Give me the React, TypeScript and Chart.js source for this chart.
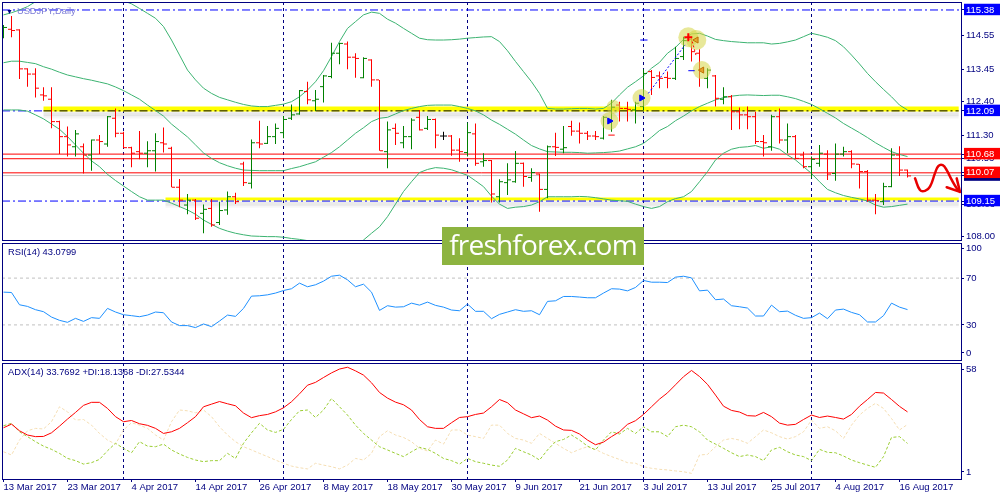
import React, { useEffect, useRef } from "react";
import { Chart, registerables } from "chart.js";

Chart.register(...registerables);

// ---------------- data ----------------
const dateTickIndex = [0, 8, 16, 24, 32, 40, 48, 56, 64, 72, 80, 88, 96, 104, 112];
const dateTickLabels = [
  "13 Mar 2017", "23 Mar 2017", "4 Apr 2017", "14 Apr 2017", "26 Apr 2017",
  "8 May 2017", "18 May 2017", "30 May 2017", "9 Jun 2017", "21 Jun 2017",
  "3 Jul 2017", "13 Jul 2017", "25 Jul 2017", "4 Aug 2017", "16 Aug 2017",
];
const monthStartIndex = [15, 35, 58, 80, 101];

const opens = [
  114.62, 114.75, 114.73, 113.46, 113.29, 112.61, 112.47, 111.74, 111.25, 110.92,
  110.92, 110.65, 111.14, 111.01, 111.85, 111.36, 110.89, 110.76, 110.71, 110.79,
  111.05, 110.87, 109.60, 109.02, 109.18, 108.75, 108.91, 108.45, 108.86, 109.29,
  110.36, 109.73, 111.05, 111.03, 111.25, 111.38, 111.85, 111.99, 112.72, 112.42,
  112.88, 113.21, 113.97, 114.27, 113.84, 113.17, 113.75, 113.10, 110.76, 111.52,
  111.05, 111.25, 111.88, 111.52, 111.81, 111.27, 111.27, 110.81, 110.73, 111.34,
  110.43, 110.47, 109.29, 109.75, 109.78, 110.38, 109.92, 110.03, 109.53, 110.92,
  110.84, 111.58, 111.43, 111.36, 111.27, 111.20, 111.79, 112.28, 112.17, 112.12,
  112.23, 113.37, 113.23, 113.18, 113.15, 113.86, 114.42, 113.97, 113.15, 113.23,
  112.47, 112.55, 112.06, 111.96, 111.90, 111.09, 110.92, 111.90, 111.14, 111.25,
  110.65, 110.27, 110.38, 110.68, 110.05, 110.68, 110.76, 110.35, 110.11, 109.18,
  109.13, 109.62, 110.65, 110.16,
];
const highs = [
  114.89, 115.18, 114.75, 113.48, 113.48, 112.86, 112.86, 111.77, 111.58, 111.47,
  111.03, 111.16, 111.30, 111.92, 112.17, 111.41, 110.92, 111.43, 111.10, 111.36,
  111.55, 110.92, 109.87, 109.38, 109.22, 109.04, 109.22, 109.13, 109.46, 109.42,
  110.43, 111.16, 111.77, 111.60, 111.68, 111.92, 112.30, 112.77, 113.04, 112.77,
  113.26, 114.31, 114.31, 114.35, 113.97, 113.84, 113.77, 113.10, 111.74, 111.68,
  111.60, 111.85, 112.12, 111.92, 111.84, 111.41, 111.30, 111.20, 111.71, 111.68,
  110.71, 110.49, 109.86, 110.38, 110.78, 110.41, 110.22, 110.05, 110.96, 111.38,
  111.60, 111.77, 111.71, 111.43, 111.43, 111.92, 112.45, 112.39, 112.39, 112.39,
  113.45, 113.42, 113.37, 113.37, 114.18, 114.51, 114.51, 114.10, 113.48, 113.26,
  112.86, 112.61, 112.20, 112.23, 112.06, 111.30, 111.96, 112.17, 111.68, 111.30,
  110.76, 110.60, 110.98, 110.81, 111.03, 110.92, 110.81, 110.36, 110.16, 109.38,
  109.75, 110.87, 110.94, 110.18,
];
const lows = [
  114.46, 114.49, 113.13, 112.88, 112.53, 112.42, 111.52, 110.68, 110.60, 110.60,
  110.05, 110.14, 110.68, 110.92, 111.23, 110.87, 110.25, 110.51, 110.25, 110.11,
  110.73, 109.60, 108.95, 108.72, 108.53, 108.10, 108.31, 108.37, 108.70, 109.05,
  109.64, 109.56, 110.87, 111.01, 111.01, 111.20, 111.79, 111.96, 112.31, 112.09,
  112.36, 113.15, 113.61, 113.45, 113.17, 113.15, 112.88, 110.79, 110.22, 110.98,
  110.87, 110.84, 111.45, 111.47, 110.87, 111.14, 110.63, 110.43, 110.60, 110.30,
  110.27, 109.10, 109.10, 109.35, 109.75, 109.62, 109.78, 108.80, 109.24, 110.62,
  110.71, 111.28, 111.03, 111.14, 111.14, 111.16, 111.41, 111.74, 111.74, 111.68,
  112.10, 112.61, 112.83, 112.83, 113.10, 113.75, 113.70, 112.88, 112.83, 112.23,
  112.31, 111.47, 111.49, 111.49, 111.01, 110.60, 110.79, 111.03, 110.71, 110.51,
  110.22, 109.89, 110.27, 109.84, 109.81, 110.60, 110.22, 109.56, 109.13, 108.72,
  109.02, 109.60, 109.97, 109.92,
];
const closes = [
  114.81, 114.71, 113.46, 113.29, 112.83, 112.58, 111.74, 111.25, 110.98, 111.34,
  110.65, 111.14, 111.09, 111.90, 111.36, 110.89, 110.71, 110.71, 110.79, 111.09,
  111.01, 109.60, 109.18, 109.18, 108.59, 108.88, 108.37, 108.84, 109.29, 109.13,
  109.75, 111.05, 111.01, 111.25, 111.52, 111.81, 111.96, 112.75, 112.45, 112.47,
  113.23, 113.97, 114.29, 113.84, 113.80, 113.80, 113.10, 110.79, 111.47, 111.36,
  111.25, 111.79, 111.47, 111.81, 111.30, 111.27, 110.81, 110.76, 111.38, 110.38,
  110.47, 109.38, 109.78, 109.84, 110.38, 109.95, 110.08, 109.53, 110.92, 110.90,
  110.89, 111.43, 111.36, 111.27, 111.25, 111.88, 112.21, 112.17, 112.14, 112.34,
  113.31, 113.18, 113.15, 113.15, 113.80, 114.38, 114.02, 113.42, 113.42, 112.50,
  112.55, 112.06, 111.96, 111.90, 111.09, 111.05, 111.90, 111.14, 111.25, 110.54,
  110.27, 110.51, 110.71, 110.03, 110.68, 110.76, 110.36, 110.11, 109.18, 109.16,
  109.62, 110.65, 110.16, 109.97,
];

const bbUpper = [
  115.22, 115.29, 115.38, 115.49, 115.65, 115.87, 116.00, 116.10, 116.15, 116.20,
  116.20, 116.20, 116.15, 116.05, 115.90, 115.68, 115.58, 115.43, 115.27, 115.11,
  114.84, 114.40, 113.91, 113.42, 113.10, 112.83, 112.66, 112.53, 112.45, 112.37,
  112.30, 112.25, 112.23, 112.23, 112.27, 112.31, 112.39, 112.55, 112.77, 113.04,
  113.40, 113.86, 114.35, 114.78, 115.00, 115.22, 115.31, 115.27, 115.08, 114.95,
  114.78, 114.62, 114.46, 114.41, 114.40, 114.40, 114.41, 114.43, 114.46, 114.48,
  114.50, 114.51, 114.35, 114.05, 113.70, 113.37, 113.04, 112.66, 112.17, 112.15,
  112.15, 112.16, 112.17, 112.17, 112.15, 112.17, 112.34, 112.61, 112.86, 113.04,
  113.23, 113.48, 113.67, 113.97, 114.16, 114.42, 114.60, 114.62, 114.53, 114.42,
  114.38, 114.35, 114.33, 114.31, 114.31, 114.31, 114.27, 114.29, 114.34, 114.40,
  114.51, 114.62, 114.56, 114.49, 114.38, 114.18, 113.91, 113.62, 113.31, 113.04,
  112.79, 112.55, 112.28, 112.12,
];
const bbMiddle = [
  113.66, 113.71, 113.71, 113.67, 113.63, 113.53, 113.45, 113.35, 113.26, 113.20,
  113.14, 113.09, 113.03, 112.97, 112.87, 112.75, 112.61, 112.47, 112.28, 112.10,
  111.92, 111.66, 111.45, 111.24, 110.98, 110.72, 110.54, 110.40, 110.30, 110.22,
  110.16, 110.15, 110.14, 110.14, 110.14, 110.14, 110.21, 110.27, 110.35, 110.43,
  110.58, 110.73, 110.92, 111.14, 111.36, 111.54, 111.74, 111.85, 111.88, 111.99,
  112.10, 112.17, 112.23, 112.27, 112.28, 112.28, 112.28, 112.23, 112.17, 112.09,
  111.96, 111.79, 111.65, 111.49, 111.33, 111.14, 110.96, 110.85, 110.76, 110.75,
  110.74, 110.74, 110.73, 110.71, 110.72, 110.73, 110.75, 110.78, 110.85, 110.92,
  111.03, 111.23, 111.45, 111.58, 111.77, 111.92, 112.09, 112.23, 112.34, 112.45,
  112.52, 112.57, 112.60, 112.61, 112.60, 112.59, 112.60, 112.60, 112.55, 112.49,
  112.40, 112.30, 112.16, 112.01, 111.86, 111.68, 111.53, 111.38, 111.22, 111.05,
  110.90, 110.76, 110.67, 110.60,
];
const bbLower = [
  112.12, 112.12, 112.12, 112.08, 111.96, 111.83, 111.66, 111.49, 111.25, 110.98,
  110.71, 110.46, 110.27, 110.02, 109.82, 109.64, 109.46, 109.29, 109.18, 109.18,
  109.18, 109.08, 108.97, 108.86, 108.72, 108.53, 108.39, 108.26, 108.17, 108.10,
  108.05, 108.01, 108.00, 107.99, 107.99, 107.97, 107.93, 107.90, 107.86, 107.79,
  107.72, 107.61, 107.55, 107.61, 107.72, 107.88, 108.10, 108.31, 108.64, 109.05,
  109.46, 109.78, 110.08, 110.18, 110.24, 110.22, 110.17, 110.08, 109.99, 109.81,
  109.62, 109.31, 109.05, 108.91, 108.95, 108.97, 109.02, 109.13, 109.29, 109.29,
  109.29, 109.29, 109.30, 109.29, 109.26, 109.22, 109.18, 109.16, 109.14, 109.05,
  108.97, 108.91, 108.97, 109.13, 109.23, 109.29, 109.46, 109.78, 110.11, 110.49,
  110.71, 110.84, 110.90, 110.92, 110.96, 110.87, 110.92, 110.84, 110.65, 110.49,
  110.27, 110.05, 109.78, 109.53, 109.42, 109.33, 109.27, 109.22, 109.15, 109.02,
  108.95, 108.97, 109.01, 109.05,
];

const rsi = [
  58.0, 57.7, 47.2, 45.8, 43.0, 41.3, 36.7, 33.9, 32.2, 35.6,
  33.0, 36.2, 35.6, 44.1, 41.0, 38.7, 37.9, 37.0, 38.4, 41.0,
  40.4, 32.5, 29.4, 29.4, 27.7, 30.8, 28.5, 33.3, 38.4, 37.3,
  44.1, 54.6, 54.9, 55.7, 57.2, 59.4, 60.9, 65.7, 62.6, 64.3,
  67.4, 71.6, 72.5, 68.5, 62.6, 64.8, 58.0, 42.4, 46.4, 45.2,
  45.5, 48.6, 46.9, 49.5, 46.7, 45.2, 42.7, 42.1, 47.8, 41.6,
  41.6, 35.3, 39.0, 41.0, 43.0, 41.6, 42.1, 38.7, 50.1, 50.6,
  54.3, 54.3, 53.8, 53.2, 53.2, 57.2, 60.9, 60.6, 59.1, 62.0,
  68.0, 66.5, 66.5, 66.2, 70.8, 71.6, 70.2, 59.1, 59.7, 51.5,
  52.1, 46.4, 45.5, 44.4, 37.6, 37.6, 46.9, 41.3, 41.8, 38.2,
  35.6, 36.2, 40.1, 35.3, 42.7, 43.5, 40.7, 38.7, 32.5, 32.5,
  37.9, 48.6, 45.2, 43.08,
];

const adx = [
  25.9, 27.7, 24.4, 22.3, 21.5, 21.6, 23.4, 26.7, 30.2, 33.5,
  37.0, 38.5, 38.5, 35.5, 31.4, 28.9, 29.5, 27.9, 27.1, 25.6,
  23.1, 23.9, 25.6, 28.4, 31.4, 36.3, 37.6, 38.9, 37.8, 36.8,
  33.2, 30.9, 31.9, 32.5, 33.8, 35.8, 38.8, 42.7, 47.0, 48.4,
  50.8, 53.1, 55.0, 55.9, 54.1, 52.0, 48.2, 43.4, 40.6, 38.6,
  37.3, 34.7, 30.0, 26.4, 25.6, 25.6, 28.4, 31.0, 31.4, 32.5,
  33.2, 36.3, 39.9, 38.3, 34.7, 32.8, 30.9, 31.7, 29.7, 26.7,
  24.8, 24.6, 22.8, 19.8, 17.5, 18.8, 21.5, 23.9, 27.6, 29.4,
  32.5, 36.3, 40.1, 43.2, 47.2, 51.2, 54.3, 51.3, 47.4, 42.1,
  36.6, 34.5, 33.7, 31.9, 31.7, 33.5, 31.4, 28.2, 27.2, 27.6,
  30.0, 32.2, 31.0, 31.7, 31.0, 30.2, 32.5, 36.6, 39.9, 43.4,
  43.1, 39.9, 36.5, 33.77,
];
const plusDI = [
  26.9, 28.1, 23.9, 21.5, 19.0, 16.8, 15.2, 13.2, 10.7, 9.6,
  7.9, 8.6, 10.2, 14.5, 18.2, 15.7, 13.5, 19.0, 16.8, 16.5,
  17.8, 14.9, 12.9, 11.2, 9.9, 9.1, 9.6, 9.6, 13.2, 10.7,
  18.2, 23.4, 28.1, 24.8, 23.6, 25.1, 30.0, 34.3, 34.7, 31.0,
  34.7, 40.4, 36.3, 32.2, 27.2, 23.1, 19.8, 16.5, 14.9, 13.2,
  11.6, 14.0, 16.2, 15.2, 13.2, 10.7, 9.6, 7.9, 10.7, 9.1,
  8.3, 7.4, 6.8, 9.9, 15.7, 14.0, 12.4, 9.9, 14.9, 19.0,
  20.1, 22.3, 19.8, 16.8, 14.9, 19.8, 23.9, 22.8, 25.6, 23.1,
  26.4, 23.9, 23.9, 21.5, 26.4, 27.2, 26.4, 23.9, 19.8, 17.8,
  15.7, 13.5, 11.6, 12.4, 11.6, 9.6, 14.9, 16.2, 14.0, 12.4,
  11.6, 9.6, 15.2, 13.7, 13.5, 11.9, 9.9, 8.6, 7.4, 6.3,
  11.6, 21.1, 21.5, 18.14,
];
const minusDI = [
  14.0, 12.4, 19.8, 24.4, 25.6, 25.3, 28.9, 36.3, 33.8, 29.7,
  30.0, 27.2, 23.1, 19.8, 17.8, 24.8, 28.4, 27.2, 25.6, 22.3,
  19.8, 28.9, 34.7, 34.3, 33.3, 34.7, 31.4, 26.4, 22.3, 19.0,
  16.5, 14.9, 13.2, 11.6, 9.9, 8.3, 6.9, 6.1, 5.5, 8.3,
  7.4, 6.6, 5.5, 7.4, 10.7, 9.9, 13.2, 21.5, 24.4, 22.3,
  21.1, 19.0, 15.7, 14.4, 19.8, 17.8, 24.8, 24.8, 22.3, 21.5,
  20.6, 27.2, 27.2, 23.1, 20.6, 19.8, 18.2, 23.1, 20.6, 18.2,
  15.7, 13.5, 15.2, 16.5, 15.2, 13.2, 11.6, 10.2, 8.6, 8.3,
  6.6, 5.8, 5.3, 5.0, 4.5, 4.1, 3.3, 12.4, 12.7, 16.5,
  19.8, 20.6, 19.8, 18.2, 21.5, 24.8, 23.4, 21.5, 20.3, 21.5,
  23.9, 29.7, 25.6, 26.4, 24.4, 20.6, 27.2, 32.2, 35.5, 38.0,
  35.5, 30.5, 24.8, 27.53,
];

// horizontal levels drawn on the price panel
const topLevel = 115.38;
const resistanceLevel = 112.09;
const supportLevel = 109.15;
const redLevels = [110.68, 110.53, 110.07];
const bidPrice = 109.98;

// price axis labels (hidden ones first so boxed ones sit on top)
const priceAxisTicks = [110.53, 109.03, 114.55, 113.45, 112.40, 111.30, 108.00, 115.38, 112.09, 110.68, 109.98, 110.07, 109.15];
const rsiLevels = [70, 30];
const rsiTickPos = [95, 70, 30, 6];
const rsiTickText = ["100", "70", "30", "0"];
const adxTickPos = [55, 4];
const adxTickText = ["58", "1"];

// trade history marks
const tradeHighlightIdx = [75.75, 76.25, 79.75, 85.6, 86.6, 87.3];
const tradeHighlightPrice = [111.76, 112.22, 112.51, 114.49, 114.40, 113.42];
const buyIdx = [75.75, 79.75];
const buyPrice = [111.76, 112.51];
const exitIdx = [86.6, 87.3];
const exitPrice = [114.40, 113.42];
const crossIdx = [85.6];
const crossPrice = [114.49];
const tradeLineIdx = [80.6, 85.2];
const tradeLinePrice = [112.66, 114.24];
const closeLineIdx = [86.1, 86.6];
const closeLinePrice = [114.35, 113.86];

// hand-drawn forecast squiggle
const forecastIdx = [113.94, 114.56, 115.19, 115.81, 116.44, 116.85, 117.4, 117.9, 118.53, 119.15, 119.56];
const forecastPrice = [109.89, 109.51, 109.48, 109.62, 110.06, 110.29, 110.32, 110.16, 109.84, 109.57, 109.45];
const arrowIdx = [117.9, 119.56, 119.15];
const arrowPrice = [109.60, 109.45, 109.89];

// ---------------- styling ----------------
const X_MIN = -0.1875;
const X_MAX = 119.6875;
const FONT = "'Liberation Sans', Arial, sans-serif";
const NAVY = "#000080";
const GREEN = "#008000";
const RED = "#ff0000";
const BAND = "#3cb371";
const DASHDOT = [8, 3, 2, 3];
const TRANSPARENT = "rgba(0,0,0,0)";

const priceBoxColors: Record<string, string> = {
  "115.38": "#0000ff",
  "112.09": "#0000ff",
  "110.68": "#ff0000",
  "110.07": "#ff0000",
  "109.98": "#000080",
  "109.15": "#0000ff",
};

const framePlugin = {
  id: "frame",
  afterDraw(chart: any) {
    const { ctx, chartArea: a } = chart;
    ctx.save();
    ctx.strokeStyle = NAVY;
    ctx.lineWidth = 1;
    ctx.setLineDash([]);
    ctx.strokeRect(Math.round(a.left) + 0.5, Math.round(a.top) + 0.5, Math.round(a.right - a.left), Math.round(a.bottom - a.top));
    ctx.restore();
  },
};

const pts = (xs: number[], ys: number[]) => xs.map((x, i) => ({ x, y: ys[i] }));
const series = (ys: number[]) => ys.map((y, i) => ({ x: i, y }));

function hLine(y: number, x0: number, x1: number, color: string, width: number, dash: number[], order: number) {
  return {
    type: "line",
    data: [{ x: x0, y }, { x: x1, y }],
    borderColor: color,
    borderWidth: width,
    borderDash: dash,
    pointRadius: 0,
    pointHitRadius: 0,
    fill: false,
    order,
  };
}

function lineSet(data: any[], color: string, width: number, dash: number[], order: number, extra: any = {}) {
  return {
    type: "line",
    data,
    borderColor: color,
    borderWidth: width,
    borderDash: dash,
    pointRadius: 0,
    pointHitRadius: 0,
    fill: false,
    tension: 0,
    order,
    ...extra,
  };
}

function xAxis(withLabels: boolean) {
  const tickValues = withLabels
    ? Array.from(new Set([...dateTickIndex, ...monthStartIndex])).sort((a, b) => a - b)
    : monthStartIndex.slice();
  return {
    type: "linear",
    min: X_MIN,
    max: X_MAX,
    offset: false,
    afterBuildTicks: (s: any) => {
      s.ticks = tickValues.map((v) => ({ value: v }));
    },
    afterFit: (s: any) => {
      s.height = withLabels ? 21 : 0;
      s.paddingLeft = 0;
      s.paddingRight = 0;
    },
    ticks: {
      display: withLabels,
      autoSkip: false,
      maxRotation: 0,
      minRotation: 0,
      align: "start",
      padding: 0,
      color: NAVY,
      font: { family: FONT, size: 9.5 },
      callback: (v: number) => {
        const k = dateTickIndex.indexOf(v);
        return k >= 0 ? dateTickLabels[k] : "";
      },
    },
    grid: {
      offset: false,
      drawOnChartArea: true,
      drawTicks: withLabels,
      tickLength: 3,
      lineWidth: 1,
      color: (c: any) => (c.tick && monthStartIndex.includes(c.tick.value) ? NAVY : TRANSPARENT),
      tickColor: (c: any) => (c.tick && dateTickIndex.includes(c.tick.value) ? NAVY : TRANSPARENT),
    },
    border: { display: false, dash: [3, 3] },
  };
}

function yAxis(min: number, max: number, tickValues: number[], labelFn: (v: number) => string, extraTicks: any = {}) {
  return {
    type: "linear",
    position: "right",
    min,
    max,
    afterBuildTicks: (s: any) => {
      s.ticks = tickValues.map((v) => ({ value: v }));
    },
    afterFit: (s: any) => {
      s.width = 39;
      s.paddingTop = 0;
      s.paddingBottom = 0;
    },
    ticks: {
      autoSkip: false,
      padding: 2,
      color: NAVY,
      font: { family: FONT, size: 9.5, lineHeight: 1.1 },
      callback: labelFn,
      ...extraTicks,
    },
    grid: { drawOnChartArea: false, drawTicks: true, tickLength: 3, tickColor: NAVY },
    border: { display: false },
  };
}

const baseOptions = (padding: any) => ({
  responsive: false,
  maintainAspectRatio: false,
  animation: false,
  devicePixelRatio: 1,
  events: [],
  layout: { padding, autoPadding: false },
  plugins: { legend: { display: false }, tooltip: { enabled: false } },
});

function mainConfig(): any {
  const barColors = opens.map((o, i) => (closes[i] > o ? GREEN : closes[i] < o ? RED : "#000000"));
  const boxKey = (c: any) => (c.tick ? Number(c.tick.value).toFixed(2) : "");
  return {
    type: "line",
    data: {
      datasets: [
        // forecast squiggle
        lineSet(pts(forecastIdx, forecastPrice), "#e80000", 2.5, [], 1, { tension: 0.45, clip: false, borderCapStyle: "round", borderJoinStyle: "round" }),
        lineSet(pts(arrowIdx, arrowPrice), "#e80000", 2.5, [], 1, { clip: false, borderCapStyle: "round", borderJoinStyle: "round" }),
        // trade marks
        {
          type: "scatter",
          data: pts(buyIdx, buyPrice),
          pointStyle: "triangle",
          rotation: 90,
          pointRadius: 3.5,
          pointBackgroundColor: "#0000ff",
          pointBorderColor: "#0000ff",
          pointBorderWidth: 1,
          order: 3,
        },
        {
          type: "scatter",
          data: pts(exitIdx, exitPrice),
          pointStyle: "triangle",
          rotation: 270,
          pointRadius: 3.5,
          pointBackgroundColor: "rgba(230,160,40,0.9)",
          pointBorderColor: "#c07000",
          pointBorderWidth: 1,
          order: 3,
        },
        {
          type: "scatter",
          data: pts(crossIdx, crossPrice),
          pointStyle: "cross",
          pointRadius: 4,
          pointBorderColor: "#ff0000",
          pointBorderWidth: 2,
          order: 3,
        },
        lineSet(pts(tradeLineIdx, tradeLinePrice), "#0000ff", 1, [2, 2], 4),
        lineSet(pts(closeLineIdx, closeLinePrice), "#ff0000", 1, [2, 2], 4),
        lineSet([{ x: 79.6, y: 114.4 }, { x: 80.5, y: 114.4 }], "#0000ff", 1, [], 4),
        lineSet([{ x: 85.6, y: 113.4 }, { x: 86.4, y: 113.4 }], "#0000ff", 1, [], 4),
        lineSet([{ x: 75.6, y: 111.3 }, { x: 76.4, y: 111.3 }], "#ff0000", 1, [], 4),
        {
          type: "scatter",
          data: pts(tradeHighlightIdx, tradeHighlightPrice),
          pointStyle: "circle",
          pointRadius: [9, 7, 9, 10, 10, 9],
          pointBackgroundColor: "rgba(214,214,70,0.55)",
          pointBorderWidth: 0,
          order: 8,
        },
        // OHLC bars
        {
          type: "scatter",
          data: opens.map((o, i) => ({ x: i - 0.25, y: o })),
          pointStyle: "line",
          pointRadius: 1.5,
          pointBorderWidth: 1,
          pointBorderColor: barColors,
          pointBackgroundColor: barColors,
          order: 19,
        },
        {
          type: "scatter",
          data: closes.map((c, i) => ({ x: i + 0.25, y: c })),
          pointStyle: "line",
          pointRadius: 1.5,
          pointBorderWidth: 1,
          pointBorderColor: barColors,
          pointBackgroundColor: barColors,
          order: 19,
        },
        {
          type: "bar",
          data: highs.map((h, i) => ({ x: i, y: [lows[i], h] })),
          backgroundColor: barColors,
          borderWidth: 0,
          barThickness: 1,
          inflateAmount: 0,
          grouped: false,
          order: 20,
        },
        // Bollinger bands
        lineSet(series(bbUpper), BAND, 1, [], 50),
        lineSet(series(bbMiddle), BAND, 1, [], 50),
        lineSet(series(bbLower), BAND, 1, [], 50),
        // support / resistance bands
        hLine(resistanceLevel, 5, 119.4, "#000000", 1, DASHDOT, 85),
        hLine(112.15, 5, 119.4, "#ffff00", 5, [], 90),
        hLine(111.98, 5, 119.4, "rgba(0,0,0,0.09)", 4, [], 95),
        hLine(111.89, 5, 119.4, "rgba(0,0,0,0.04)", 3, [], 96),
        hLine(109.22, 20.25, 119.4, "#ffff00", 3, [], 90),
        hLine(109.07, 20.25, 119.4, "rgba(0,0,0,0.08)", 4, [], 95),
        hLine(108.98, 20.25, 119.4, "rgba(0,0,0,0.035)", 3, [], 96),
        // horizontal lines
        hLine(topLevel, X_MIN, X_MAX, "#0000ff", 1, DASHDOT, 100),
        hLine(resistanceLevel, X_MIN, 5, "#0000ff", 1, DASHDOT, 100),
        hLine(supportLevel, X_MIN, X_MAX, "#0000ff", 1, DASHDOT, 80),
        ...redLevels.map((v) => hLine(v, X_MIN, X_MAX, RED, 1, [], 100)),
        hLine(bidPrice, X_MIN, X_MAX, "#c0c0c0", 1, [], 101),
      ],
    },
    options: {
      ...baseOptions({ left: 2, right: 0, top: 2, bottom: 4 }),
      scales: {
        x: xAxis(false),
        y: yAxis(107.88, 115.64, priceAxisTicks, (v: number) => Number(v).toFixed(2), {
          showLabelBackdrop: (c: any) => !!priceBoxColors[boxKey(c)],
          backdropColor: (c: any) => priceBoxColors[boxKey(c)] || TRANSPARENT,
          backdropPadding: { left: 2, right: 6, top: 1, bottom: 0 },
          color: (c: any) => (priceBoxColors[boxKey(c)] ? "#ffffff" : NAVY),
        }),
      },
    },
    plugins: [framePlugin],
  };
}

function rsiConfig(): any {
  return {
    type: "line",
    data: {
      datasets: [
        lineSet(series(rsi), "#1e90ff", 1, [], 1),
        ...rsiLevels.map((v) => hLine(v, X_MIN, X_MAX, "#c0c0c0", 1, [3, 3], 10)),
      ],
    },
    options: {
      ...baseOptions({ left: 2, right: 0, top: 3, bottom: 4 }),
      scales: {
        x: xAxis(false),
        y: yAxis(0, 100, rsiTickPos, (v: number) => rsiTickText[rsiTickPos.indexOf(v)] ?? ""),
      },
    },
    plugins: [framePlugin],
  };
}

function adxConfig(): any {
  return {
    type: "line",
    data: {
      datasets: [
        lineSet(series(adx), "#ff0000", 1, [], 1),
        lineSet(series(plusDI), "#9acd32", 1, [3, 2], 2),
        lineSet(series(minusDI), "#f5deb3", 1, [3, 2], 3),
      ],
    },
    options: {
      ...baseOptions({ left: 2, right: 0, top: 3, bottom: 0 }),
      scales: {
        x: xAxis(true),
        y: yAxis(0.5, 58, adxTickPos, (v: number) => adxTickText[adxTickPos.indexOf(v)] ?? ""),
      },
    },
    plugins: [framePlugin],
  };
}

export default function App() {
  const mainRef = useRef<HTMLCanvasElement>(null);
  const rsiRef = useRef<HTMLCanvasElement>(null);
  const adxRef = useRef<HTMLCanvasElement>(null);

  useEffect(() => {
    document.body.style.margin = "0";
    Chart.defaults.font.family = FONT;
    const charts = [
      new Chart(mainRef.current as HTMLCanvasElement, mainConfig()),
      new Chart(rsiRef.current as HTMLCanvasElement, rsiConfig()),
      new Chart(adxRef.current as HTMLCanvasElement, adxConfig()),
    ];
    return () => charts.forEach((c) => c.destroy());
  }, []);

  const textBase: React.CSSProperties = {
    position: "absolute",
    fontFamily: FONT,
    fontSize: 9.3,
    lineHeight: "12px",
    whiteSpace: "nowrap",
    zIndex: 5,
  };

  return (
    <div style={{ position: "relative", width: 1000, height: 500, background: "#ffffff", overflow: "hidden" }}>
      <canvas ref={mainRef} width={1000} height={244} style={{ position: "absolute", left: 0, top: 0, width: 1000, height: 244 }} />
      <canvas ref={rsiRef} width={1000} height={124} style={{ position: "absolute", left: 0, top: 240, width: 1000, height: 124 }} />
      <canvas ref={adxRef} width={1000} height={140} style={{ position: "absolute", left: 0, top: 360, width: 1000, height: 140 }} />
      <div style={{ ...textBase, left: 6, top: 5 }}>
        <span style={{ color: NAVY, fontSize: 7, marginRight: 4 }}>▼</span>
        <span style={{ color: "#7b7bd6" }}>USDJPY,Daily</span>
      </div>
      <div style={{ ...textBase, left: 8, top: 246, color: NAVY }}>RSI(14) 43.0799</div>
      <div style={{ ...textBase, left: 8, top: 366, color: NAVY }}>ADX(14) 33.7692 +DI:18.1368 -DI:27.5344</div>
      <div
        style={{
          position: "absolute",
          left: 442,
          top: 227,
          width: 202,
          height: 38,
          background: "#8db440",
          color: "#ffffff",
          fontFamily: "'Open Sans', 'Noto Sans', sans-serif",
          fontSize: 28,
          letterSpacing: "-0.8px",
          lineHeight: "34px",
          textAlign: "center",
          zIndex: 6,
        }}
      >
        freshforex.com
      </div>
    </div>
  );
}
